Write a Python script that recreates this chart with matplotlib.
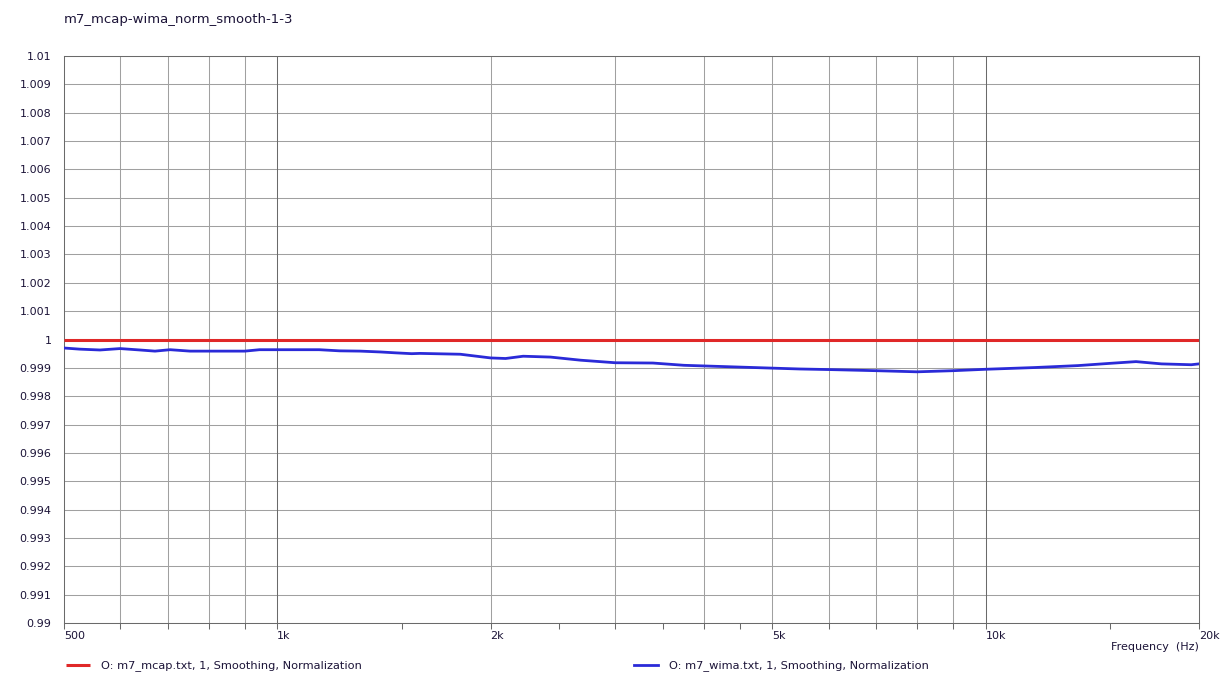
import matplotlib
matplotlib.use("Agg")
import matplotlib.pyplot as plt
import numpy as np
from matplotlib.ticker import FixedLocator, FuncFormatter, NullFormatter

# data
freq_wima = [500, 526, 562, 600, 640, 672, 706, 753, 800, 900, 944, 1000, 1146, 1224,
             1310, 1399, 1467, 1548, 1590, 1813, 2000, 2100, 2224, 2430, 2680, 3000,
             3390, 3750, 4330, 5000, 5460, 6000, 7000, 8000, 9000, 10000, 11700,
             13500, 15000, 16300, 17700, 19500, 20000]
val_wima = [0.99970, 0.99966, 0.99963, 0.99968, 0.99963, 0.99959, 0.99964, 0.99959,
            0.99959, 0.99959, 0.99964, 0.99964, 0.99964, 0.99960, 0.99959, 0.99956,
            0.99953, 0.99950, 0.99951, 0.99948, 0.99935, 0.99933, 0.99941, 0.99938,
            0.99927, 0.99918, 0.99917, 0.99909, 0.99904, 0.99899, 0.99896, 0.99894,
            0.99890, 0.99886, 0.99890, 0.99895, 0.99901, 0.99908, 0.99916, 0.99922,
            0.99914, 0.99911, 0.99914]
freq_mcap = [500, 20000]
val_mcap = [1.0, 1.0]

major_ticks = [500, 1000, 2000, 5000, 10000, 20000]
major_labels = ["500", "1k", "2k", "5k", "10k", "20k"]
minor_ticks = [600, 700, 800, 900, 1500, 2500, 3000, 3500, 4000, 4500,
               6000, 7000, 8000, 9000, 15000]
grid_light = [600, 700, 800, 900, 2000, 3000, 4000, 5000, 6000, 7000, 8000, 9000]
grid_dark = [1000, 10000]
y_ticks = np.round(np.arange(0.99, 1.0101, 0.001), 3)

title = "m7_mcap-wima_norm_smooth-1-3"
label_mcap = "O: m7_mcap.txt, 1, Smoothing, Normalization"
label_wima = "O: m7_wima.txt, 1, Smoothing, Normalization"

txt = "#1c1438"
fs = 8

fig = plt.figure(figsize=(12.22, 6.99), dpi=100)
fig.patch.set_facecolor("white")
ax = fig.add_axes([64 / 1222, 1 - 623 / 699, 1135 / 1222, 567 / 699])

ax.set_xscale("log")
ax.set_xlim(500, 20000)
ax.set_ylim(0.99, 1.01)

for y in y_ticks:
    ax.axhline(y, color="#a0a0a0", lw=0.75, zorder=1)
for x in grid_light:
    ax.axvline(x, color="#a0a0a0", lw=0.75, zorder=1)
for x in grid_dark:
    ax.axvline(x, color="#6a6a6a", lw=0.75, zorder=1)

l1, = ax.plot(freq_mcap, val_mcap, color="#e02828", lw=2.2, zorder=3,
              solid_capstyle="butt")
l2, = ax.plot(freq_wima, val_wima, color="#2a2ad8", lw=2.0, zorder=4)

ax.xaxis.set_major_locator(FixedLocator(major_ticks))
ax.xaxis.set_major_formatter(FuncFormatter(lambda v, p: major_labels[major_ticks.index(int(round(v)))]
                                           if int(round(v)) in major_ticks else ""))
ax.xaxis.set_minor_locator(FixedLocator(minor_ticks))
ax.xaxis.set_minor_formatter(NullFormatter())
ax.tick_params(axis="x", which="both", direction="out", length=4, width=0.75,
               color="#6a6a6a", labelsize=fs, labelcolor=txt, pad=2)
for lab in ax.get_xticklabels():
    lab.set_ha("left")

ax.yaxis.set_major_locator(FixedLocator(y_ticks))
ax.yaxis.set_major_formatter(FuncFormatter(lambda v, p: "%g" % round(v, 3)))
ax.tick_params(axis="y", length=0, labelsize=fs, labelcolor=txt, pad=9)

for s in ax.spines.values():
    s.set_color("#6a6a6a")
    s.set_linewidth(0.75)

fig.text(64 / 1222, 1 - 20 / 699, title, fontsize=9.5, color=txt, va="center", ha="left")
fig.text(1199 / 1222, 1 - 647 / 699, "Frequency  (Hz)", fontsize=fs, color=txt,
         va="center", ha="right")

fig.legend([l1, l2], [label_mcap, label_wima], loc="center left",
           bbox_to_anchor=(66 / 1222, 1 - 666 / 699), ncol=2, frameon=False,
           fontsize=8.2, labelcolor=txt, handlelength=2.1, handletextpad=1.0,
           columnspacing=23.85, borderaxespad=0, borderpad=0)

fig.savefig("out.png", dpi=100)
